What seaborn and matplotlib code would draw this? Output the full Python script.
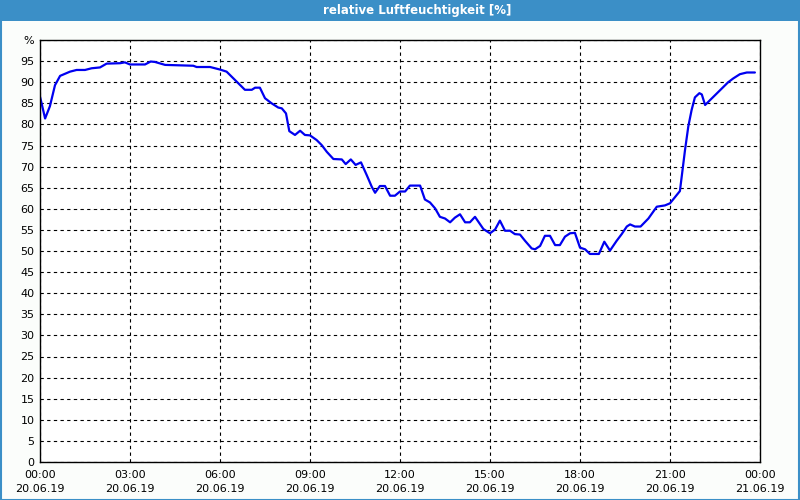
import matplotlib
matplotlib.use("Agg")
import matplotlib.pyplot as plt
from matplotlib.patches import Rectangle
import seaborn as sns
import pandas as pd

# ---- data ----
hours = [0.0, 0.17, 0.33, 0.5, 0.67, 1.0, 1.22, 1.5, 1.72, 2.0, 2.22, 2.67, 2.83, 3.0, 3.5,
         3.69, 3.83, 4.17, 5.11, 5.22, 5.67, 6.0, 6.22, 6.83, 7.06, 7.17, 7.33, 7.5, 7.72,
         7.94, 8.06, 8.2, 8.31, 8.5, 8.67, 8.83, 9.0, 9.22, 9.39, 9.56, 9.78, 10.06, 10.19,
         10.36, 10.52, 10.7, 10.89, 11.06, 11.17, 11.33, 11.5, 11.67, 11.83, 12.0, 12.17,
         12.33, 12.67, 12.83, 13.0, 13.17, 13.33, 13.5, 13.67, 13.83, 14.0, 14.17, 14.33,
         14.5, 14.78, 15.0, 15.17, 15.33, 15.5, 15.67, 15.83, 16.0, 16.17, 16.39, 16.5,
         16.67, 16.83, 17.0, 17.17, 17.33, 17.5, 17.67, 17.83, 18.0, 18.17, 18.33, 18.63,
         18.81, 19.0, 19.22, 19.39, 19.56, 19.67, 19.83, 20.02, 20.28, 20.56, 20.83, 21.0,
         21.33, 21.39, 21.5, 21.61, 21.72, 21.83, 21.98, 22.06, 22.17, 22.94, 23.11, 23.33,
         23.56, 23.83]
humidity = [86.6, 81.4, 84.3, 89.3, 91.5, 92.5, 92.9, 92.9, 93.3, 93.5, 94.4, 94.5, 94.7, 94.2, 94.2,
            94.9, 94.8, 94.1, 93.9, 93.6, 93.6, 93.0, 92.5, 88.2, 88.2, 88.7, 88.7, 86.2, 85.0,
            84.0, 83.8, 82.6, 78.4, 77.5, 78.5, 77.5, 77.4, 76.3, 75.1, 73.5, 71.8, 71.7, 70.6,
            71.7, 70.4, 71.0, 68.0, 65.2, 63.8, 65.4, 65.4, 63.1, 63.1, 64.1, 64.1,
            65.5, 65.5, 62.2, 61.5, 60.1, 58.1, 57.7, 56.8, 57.9, 58.7, 56.8, 56.8,
            58.1, 55.2, 54.2, 55.1, 57.2, 54.8, 54.8, 54.0, 53.9, 52.4, 50.6, 50.4,
            51.2, 53.6, 53.6, 51.4, 51.4, 53.4, 54.2, 54.3, 50.8, 50.4, 49.3, 49.3,
            52.2, 50.1, 52.4, 54.0, 55.8, 56.3, 55.8, 55.8, 57.7, 60.5, 60.8, 61.3,
            64.2, 67.6, 73.9, 79.5, 83.4, 86.4, 87.4, 87.1, 84.6, 90.0, 90.9, 91.9,
            92.3, 92.3]
x_tick_pos = [0, 3, 6, 9, 12, 15, 18, 21, 24]
x_tick_labels = ["00:00\n20.06.19", "03:00\n20.06.19", "06:00\n20.06.19", "09:00\n20.06.19",
                 "12:00\n20.06.19", "15:00\n20.06.19", "18:00\n20.06.19", "21:00\n20.06.19",
                 "00:00\n21.06.19"]
y_tick_pos = list(range(0, 101, 5))
y_tick_labels = [str(v) for v in range(0, 100, 5)] + ["%"]
title = "relative Luftfeuchtigkeit [%]"

df = pd.DataFrame({"h": hours, "rh": humidity})

sns.set_style("white")
plt.rcParams["font.family"] = ["DejaVu Sans"]

fig = plt.figure(figsize=(8, 5), dpi=100, facecolor="#fbfdfb")
ax = fig.add_axes([40 / 800, 1 - 462 / 500, 720 / 800, 422 / 500])
ax.set_facecolor("#ffffff")

sns.lineplot(data=df, x="h", y="rh", ax=ax, color="#0000f0", linewidth=1.6)

ax.set_xlim(0, 24)
ax.set_ylim(0, 100)
ax.set_xticks(x_tick_pos)
ax.set_xticklabels(x_tick_labels, fontsize=8, color="#000000", linespacing=1.45)
ax.set_xticks(range(0, 25), minor=True)
ax.set_yticks(y_tick_pos)
ax.set_yticklabels(y_tick_labels, fontsize=8, color="#000000")
ax.set_xlabel("")
ax.set_ylabel("")

ax.tick_params(axis="x", which="both", direction="out", length=3, width=0.8, color="black", pad=3)
ax.tick_params(axis="y", which="both", length=0, pad=4)

ax.grid(True, which="major", color="black", linestyle=(0, (3, 3)), linewidth=0.8)
for s in ax.spines.values():
    s.set_visible(True)
    s.set_color("black")
    s.set_linewidth(1.0)

# title bar
fig.patches.append(Rectangle((0, 1 - 21 / 500), 1, 21 / 500, transform=fig.transFigure,
                             facecolor="#3b8fc7", edgecolor="none", zorder=0))
fig.text(417 / 800, 1 - 10.5 / 500, title, ha="center", va="center", color="white",
         fontsize=8.5, fontweight="bold")
# outer border
fig.patches.append(Rectangle((0.001, 0.001), 0.998, 0.998, transform=fig.transFigure,
                             facecolor="none", edgecolor="#3b8fc7", linewidth=1.5, zorder=5))

fig.savefig("out.png", dpi=100, facecolor=fig.get_facecolor())
